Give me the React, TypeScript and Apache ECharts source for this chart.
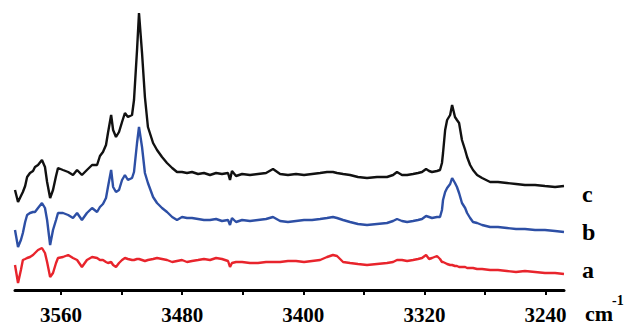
import React, { useEffect, useRef } from "react";
import * as echarts from "echarts";

// wavenumbers (cm^-1), shared by all three spectra
const wavenumbers = [
  3590.4, 3588.4, 3586.5, 3585.2, 3583.7, 3582.4, 3580.5, 3578.5, 3577.2, 3575.2,
  3572.6, 3570.6, 3569.2, 3567.2, 3565.3, 3563.3, 3562.0, 3558.7, 3555.3, 3552.1,
  3549.4, 3546.2, 3542.9, 3539.5, 3536.2, 3534.3, 3532.3, 3530.3, 3529.0, 3526.9,
  3525.6, 3523.7, 3521.7, 3519.7, 3517.8, 3515.8, 3513.1, 3511.8, 3509.8, 3508.5,
  3506.5, 3504.6, 3502.6, 3499.2, 3496.6, 3493.3, 3490.0, 3486.6, 3483.4, 3480.1,
  3476.8, 3473.5, 3469.5, 3465.6, 3461.6, 3457.6, 3453.7, 3449.7, 3448.4, 3447.1,
  3444.4, 3440.4, 3435.2, 3429.9, 3424.6, 3420.0, 3415.3, 3410.1, 3404.8, 3399.5,
  3394.2, 3388.9, 3384.3, 3380.4, 3377.7, 3373.7, 3369.1, 3363.9, 3357.9, 3351.3,
  3344.7, 3340.7, 3338.1, 3334.8, 3331.4, 3327.5, 3324.2, 3321.6, 3318.9, 3316.9,
  3315.0, 3311.7, 3309.7, 3308.4, 3307.7, 3306.3, 3305.0, 3303.0, 3301.7, 3299.8,
  3298.5, 3297.1, 3295.2, 3293.1, 3291.8, 3289.8, 3287.9, 3285.2, 3281.9, 3276.6,
  3271.4, 3265.5, 3259.5, 3253.6, 3246.9, 3240.4, 3233.7, 3227.8,
];

// spectrum c (black)
const spectrumC = [
  100, 88, 94, 98, 104, 113, 117, 119, 123, 125,
  130, 123, 108, 92, 100, 114, 122, 120, 118, 115,
  120, 115, 120, 125, 125, 134, 138, 145, 157, 175,
  160, 153, 158, 168, 177, 173, 175, 190, 240, 277,
  237, 193, 163, 147, 140, 133, 127, 122, 118, 118,
  117, 118, 116, 117, 115, 117, 116, 117, 110, 119,
  114, 116, 115, 116, 117, 121, 116, 115, 116, 115,
  116, 117, 118, 118, 117, 116, 115, 113, 112, 113,
  113, 115, 118, 115, 115, 116, 117, 118, 121, 119,
  118, 119, 120, 127, 137, 160, 170, 175, 185, 173,
  170, 167, 150, 140, 133, 125, 120, 115, 112, 108,
  108, 107, 106, 105, 105, 104, 103, 104,
];

// spectrum b (blue)
const spectrumB = [
  60, 43, 50, 57, 68, 75, 77, 78, 78, 82,
  87, 82, 70, 45, 60, 70, 77, 77, 75, 72,
  77, 70, 77, 82, 78, 83, 86, 92, 103, 120,
  103, 98, 100, 110, 115, 110, 112, 118, 147, 163,
  143, 117, 107, 93, 87, 82, 78, 73, 70, 73,
  72, 72, 71, 70, 70, 71, 69, 70, 65, 72,
  68, 70, 69, 70, 71, 73, 69, 68, 69, 70,
  70, 71, 72, 73, 72, 70, 68, 66, 65, 66,
  67, 69, 71, 69, 68, 69, 70, 71, 74, 73,
  72, 73, 73, 80, 90, 98, 102, 106, 112, 107,
  103, 97, 87, 82, 77, 72, 68, 67, 65, 63,
  63, 62, 61, 61, 60, 60, 59, 58,
];

// spectrum a (red)
const spectrumA = [
  25, 7, 20, 30, 31, 32, 33, 35, 37, 40,
  42, 37, 28, 13, 17, 27, 32, 33, 35, 32,
  30, 23, 30, 33, 32, 30, 30, 28, 27, 28,
  25, 23, 27, 30, 32, 31, 30, 30, 31, 31,
  30, 29, 30, 31, 32, 31, 30, 28, 29, 30,
  28, 29, 30, 31, 30, 32, 31, 29, 23, 27,
  28, 28, 27, 27, 28, 28, 28, 29, 29, 28,
  29, 30, 33, 35, 34, 28, 27, 26, 25, 26,
  27, 28, 30, 30, 29, 30, 31, 32, 35, 31,
  32, 34, 31, 28, 28, 27, 26, 25, 25, 24,
  24, 23, 23, 23, 22, 22, 22, 21, 21, 20,
  20, 19, 18, 19, 18, 17, 17, 16,
];

const tickValues = [3560, 3520, 3480, 3440, 3400, 3360, 3320, 3280, 3240];
const labelValues = [3560, 3480, 3400, 3320, 3240];
const traceNames = ["c", "b", "a"];
const traceColors = ["#111111", "#2d4fa5", "#e8242c"];

const serifFamily = "Liberation Serif";

export default function App() {
  const ref = useRef<HTMLDivElement>(null);

  useEffect(() => {
    if (!ref.current) return;
    const chart = echarts.init(ref.current, undefined, { renderer: "svg" });
    const seriesData = [spectrumC, spectrumB, spectrumA];
    const txt = (text: string, left: number, top: number, size: number) => ({
      type: "text",
      left,
      top,
      style: {
        text,
        fontFamily: serifFamily,
        fontWeight: "bold",
        fontSize: size,
        fill: "#000",
      },
    });
    chart.setOption({
      animation: false,
      grid: { left: 15, right: 62, top: 0, bottom: 35 },
      xAxis: {
        type: "value",
        inverse: true,
        min: 3227.8,
        max: 3590.4,
        axisLine: { show: true, lineStyle: { color: "#000", width: 3 } },
        axisTick: {
          show: true,
          inside: false,
          length: 5,
          lineStyle: { color: "#000", width: 2 },
          customValues: tickValues,
        },
        axisLabel: {
          customValues: labelValues,
          formatter: (v: number) => String(v),
          color: "#000",
          fontFamily: serifFamily,
          fontWeight: "bold",
          fontSize: 21,
          margin: 14,
        },
        splitLine: { show: false },
      },
      yAxis: {
        type: "value",
        min: 0,
        max: 290,
        show: false,
      },
      series: seriesData.map((d, i) => ({
        type: "line",
        name: traceNames[i],
        data: wavenumbers.map((w, j) => [w, d[j]]),
        showSymbol: false,
        symbol: "none",
        lineStyle: { color: traceColors[i], width: 2.4 },
        z: 3 - i,
      })),
      graphic: [
        txt("c", 582, 182, 24),
        txt("b", 582, 220, 24),
        txt("a", 582, 258, 24),
        txt("cm", 585, 302, 22),
        txt("-1", 612, 293, 14),
      ],
    });
    return () => chart.dispose();
  }, []);

  return (
    <div
      ref={ref}
      style={{ position: "absolute", left: 0, top: 0, width: 626, height: 325 }}
    />
  );
}
